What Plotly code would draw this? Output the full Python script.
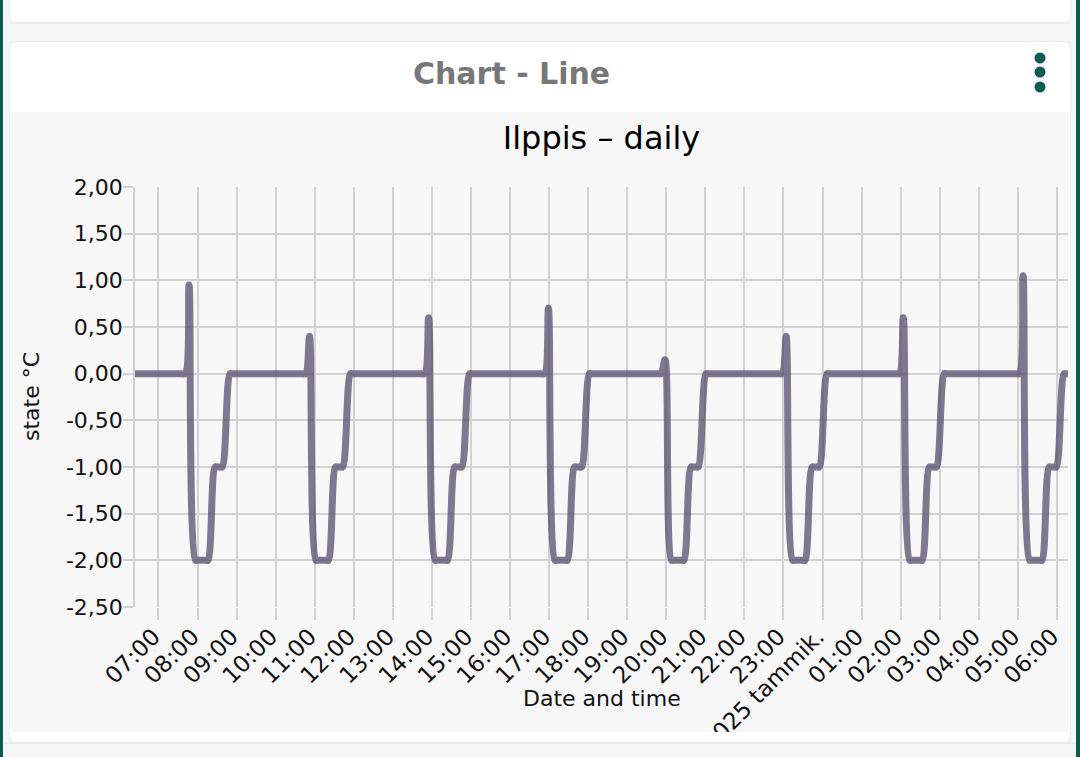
import plotly.graph_objects as go

# --- data (Ilppis, one day, state in °C) ---
times = [
    "2025-01-14 06:24", "2025-01-14 07:00",
    # cycle 1
    "2025-01-14 07:35", "2025-01-14 07:41", "2025-01-14 07:47", "2025-01-14 07:57",
    "2025-01-14 08:00", "2025-01-14 08:13", "2025-01-14 08:16", "2025-01-14 08:27",
    "2025-01-14 08:30", "2025-01-14 08:35", "2025-01-14 08:38", "2025-01-14 08:50",
    "2025-01-14 08:53", "2025-01-14 09:27",
    # cycle 2
    "2025-01-14 10:40", "2025-01-14 10:46", "2025-01-14 10:52", "2025-01-14 11:02",
    "2025-01-14 11:05", "2025-01-14 11:18", "2025-01-14 11:21", "2025-01-14 11:32",
    "2025-01-14 11:35", "2025-01-14 11:40", "2025-01-14 11:43", "2025-01-14 11:55",
    "2025-01-14 11:58", "2025-01-14 12:32",
    # cycle 3
    "2025-01-14 13:43", "2025-01-14 13:49", "2025-01-14 13:55", "2025-01-14 14:05",
    "2025-01-14 14:08", "2025-01-14 14:21", "2025-01-14 14:24", "2025-01-14 14:35",
    "2025-01-14 14:38", "2025-01-14 14:43", "2025-01-14 14:46", "2025-01-14 14:58",
    "2025-01-14 15:01", "2025-01-14 15:35",
    # cycle 4
    "2025-01-14 16:47", "2025-01-14 16:53", "2025-01-14 16:59", "2025-01-14 17:09",
    "2025-01-14 17:12", "2025-01-14 17:25", "2025-01-14 17:28", "2025-01-14 17:39",
    "2025-01-14 17:42", "2025-01-14 17:47", "2025-01-14 17:50", "2025-01-14 18:02",
    "2025-01-14 18:05", "2025-01-14 18:39",
    # cycle 5
    "2025-01-14 19:46", "2025-01-14 19:52", "2025-01-14 19:58", "2025-01-14 20:08",
    "2025-01-14 20:11", "2025-01-14 20:24", "2025-01-14 20:27", "2025-01-14 20:38",
    "2025-01-14 20:41", "2025-01-14 20:46", "2025-01-14 20:49", "2025-01-14 21:01",
    "2025-01-14 21:04", "2025-01-14 21:38",
    # cycle 6
    "2025-01-14 22:52", "2025-01-14 22:58", "2025-01-14 23:04", "2025-01-14 23:14",
    "2025-01-14 23:17", "2025-01-14 23:30", "2025-01-14 23:33", "2025-01-14 23:44",
    "2025-01-14 23:47", "2025-01-14 23:52", "2025-01-14 23:55", "2025-01-15 00:07",
    "2025-01-15 00:10", "2025-01-15 00:44",
    # cycle 7
    "2025-01-15 01:52", "2025-01-15 01:58", "2025-01-15 02:04", "2025-01-15 02:14",
    "2025-01-15 02:17", "2025-01-15 02:30", "2025-01-15 02:33", "2025-01-15 02:44",
    "2025-01-15 02:47", "2025-01-15 02:52", "2025-01-15 02:55", "2025-01-15 03:07",
    "2025-01-15 03:10", "2025-01-15 03:44",
    # cycle 8
    "2025-01-15 04:56", "2025-01-15 05:02", "2025-01-15 05:08", "2025-01-15 05:18",
    "2025-01-15 05:21", "2025-01-15 05:34", "2025-01-15 05:37", "2025-01-15 05:48",
    "2025-01-15 05:51", "2025-01-15 05:56", "2025-01-15 05:59", "2025-01-15 06:11",
    "2025-01-15 06:14", "2025-01-15 06:17",
]
state = [
    0.0, 0.0,
    0.0, 0.0, 0.95, -2.0, -2.0, -2.0, -2.0, -1.0, -1.0, -1.0, -1.0, 0.0, 0.0, 0.0,
    0.0, 0.0, 0.40, -2.0, -2.0, -2.0, -2.0, -1.0, -1.0, -1.0, -1.0, 0.0, 0.0, 0.0,
    0.0, 0.0, 0.60, -2.0, -2.0, -2.0, -2.0, -1.0, -1.0, -1.0, -1.0, 0.0, 0.0, 0.0,
    0.0, 0.0, 0.70, -2.0, -2.0, -2.0, -2.0, -1.0, -1.0, -1.0, -1.0, 0.0, 0.0, 0.0,
    0.0, 0.0, 0.15, -2.0, -2.0, -2.0, -2.0, -1.0, -1.0, -1.0, -1.0, 0.0, 0.0, 0.0,
    0.0, 0.0, 0.40, -2.0, -2.0, -2.0, -2.0, -1.0, -1.0, -1.0, -1.0, 0.0, 0.0, 0.0,
    0.0, 0.0, 0.60, -2.0, -2.0, -2.0, -2.0, -1.0, -1.0, -1.0, -1.0, 0.0, 0.0, 0.0,
    0.0, 0.0, 1.05, -2.0, -2.0, -2.0, -2.0, -1.0, -1.0, -1.0, -1.0, 0.0, 0.0, 0.0,
]

x_tick_vals = [
    "2025-01-14 07:00", "2025-01-14 08:00", "2025-01-14 09:00", "2025-01-14 10:00",
    "2025-01-14 11:00", "2025-01-14 12:00", "2025-01-14 13:00", "2025-01-14 14:00",
    "2025-01-14 15:00", "2025-01-14 16:00", "2025-01-14 17:00", "2025-01-14 18:00",
    "2025-01-14 19:00", "2025-01-14 20:00", "2025-01-14 21:00", "2025-01-14 22:00",
    "2025-01-14 23:00", "2025-01-15 00:00", "2025-01-15 01:00", "2025-01-15 02:00",
    "2025-01-15 03:00", "2025-01-15 04:00", "2025-01-15 05:00", "2025-01-15 06:00",
]
x_tick_text = [
    "07:00", "08:00", "09:00", "10:00", "11:00", "12:00", "13:00", "14:00",
    "15:00", "16:00", "17:00", "18:00", "19:00", "20:00", "21:00", "22:00",
    "23:00", "2025 tammik.", "01:00", "02:00", "03:00", "04:00", "05:00", "06:00",
]
y_tick_vals = [-2.5, -2.0, -1.5, -1.0, -0.5, 0.0, 0.5, 1.0, 1.5, 2.0]
y_tick_text = ["-2,50", "-2,00", "-1,50", "-1,00", "-0,50", "0,00", "0,50", "1,00", "1,50", "2,00"]

# --- page geometry (pixels) ---
W, H = 1080, 757
ML, MR, MT, MB = 135, 12, 187, 150
PW, PH = W - ML - MR, H - MT - MB

TEAL = "#0b5c50"
GRID = "#d2d2d2"
FONT = "DejaVu Sans"


def fx(x):
    return (x - ML) / PW


def fy(y):
    return (H - MB - y) / PH


def rrect(x0, y0, x1, y1, r, color, layer="below"):
    # rounded rectangle as a paper-referenced path
    p = (f"M{fx(x0 + r)},{fy(y0)} L{fx(x1 - r)},{fy(y0)} Q{fx(x1)},{fy(y0)} {fx(x1)},{fy(y0 + r)} "
         f"L{fx(x1)},{fy(y1 - r)} Q{fx(x1)},{fy(y1)} {fx(x1 - r)},{fy(y1)} "
         f"L{fx(x0 + r)},{fy(y1)} Q{fx(x0)},{fy(y1)} {fx(x0)},{fy(y1 - r)} "
         f"L{fx(x0)},{fy(y0 + r)} Q{fx(x0)},{fy(y0)} {fx(x0 + r)},{fy(y0)} Z")
    return dict(type="path", xref="paper", yref="paper", path=p,
                fillcolor=color, line=dict(width=0), layer=layer)


def box(x0, y0, x1, y1, color, layer="below"):
    return dict(type="rect", xref="paper", yref="paper",
                x0=fx(x0), x1=fx(x1), y0=fy(y1), y1=fy(y0),
                fillcolor=color, line=dict(width=0), layer=layer)


def dot(cx, cy, r, color):
    return dict(type="circle", xref="paper", yref="paper",
                x0=fx(cx - r), x1=fx(cx + r), y0=fy(cy + r), y1=fy(cy - r),
                fillcolor=color, line=dict(width=0), layer="below")


shapes = [
    # top card (only its bottom part is visible)
    rrect(9, -20, 1071, 24, 6, "#ebebeb"),
    rrect(10, -20, 1070, 22, 6, "#ffffff"),
    # main card with a faint shadow
    rrect(9, 41, 1071, 744, 6, "#ebebeb"),
    rrect(10, 42, 1070, 742, 6, "#ffffff"),
    box(12, 112, 1068, 732, "#f7f7f7"),
    # menu dots
    dot(1040, 58, 5.5, TEAL),
    dot(1040, 72, 5.5, TEAL),
    dot(1040, 87, 5.5, TEAL),
    # clip the long rotated label at the bottom of the chart area
    box(12, 732, 1068, 742, "#ffffff", "above"),
    box(4, 742, 1075, 744, "#ebebeb", "above"),
    box(4, 744, 1075, 757, "#f6f6f6", "above"),
    # teal frame of the screen
    box(0, 0, 3, 757, TEAL, "above"),
    box(1076, 0, 1080, 757, TEAL, "above"),
]

fig = go.Figure()
fig.add_trace(go.Scatter(
    x=times, y=state, mode="lines",
    line=dict(color="rgba(72,66,98,0.7)", width=7, shape="spline", smoothing=1),
    showlegend=False, hoverinfo="skip",
))

fig.update_layout(
    width=W, height=H,
    margin=dict(l=ML, r=MR, t=MT, b=MB, pad=0, autoexpand=False),
    paper_bgcolor="#f6f6f6",
    plot_bgcolor="#f7f7f7",
    font=dict(family=FONT, size=22, color="#111111"),
    separators=", ",
    showlegend=False,
    title=dict(text="Ilppis – daily", x=0.5, xref="paper", xanchor="center",
               y=1 - 138 / H, yref="container", yanchor="middle",
               font=dict(family=FONT, size=32, color="#000000")),
    xaxis=dict(
        type="date", range=[times[0], times[-1]], automargin=False,
        tickmode="array", tickvals=x_tick_vals, ticktext=x_tick_text, tickangle=-45,
        ticklabelstandoff=-6, ticklabelshift=-5,
        showgrid=True, gridcolor=GRID, gridwidth=1.5,
        ticks="outside", ticklen=12, tickcolor=GRID, tickwidth=1.5,
        showline=False, zeroline=False,
        tickfont=dict(family=FONT, size=23, color="#111111"),
    ),
    yaxis=dict(
        range=[-2.5, 2.0], automargin=False,
        tickmode="array", tickvals=y_tick_vals, ticktext=y_tick_text,
        ticklabelstandoff=-4,
        showgrid=True, gridcolor=GRID, gridwidth=1.5,
        ticks="outside", ticklen=10, tickcolor=GRID, tickwidth=1.5,
        showline=True, linecolor=GRID, linewidth=1.5, zeroline=False,
        tickfont=dict(family=FONT, size=22, color="#111111"),
    ),
    shapes=shapes,
    annotations=[
        dict(text="<b>Chart - Line</b>", xref="paper", yref="paper",
             x=fx(511), y=fy(73), xanchor="center", yanchor="middle", showarrow=False,
             font=dict(family=FONT, size=30, color="#777777")),
        dict(text="state °C", xref="paper", yref="paper", textangle=-90,
             x=fx(31), y=fy(397), xanchor="center", yanchor="middle", showarrow=False,
             font=dict(family=FONT, size=22, color="#111111")),
        dict(text="Date and time", xref="paper", yref="paper",
             x=fx(602), y=fy(698), xanchor="center", yanchor="middle", showarrow=False,
             font=dict(family=FONT, size=22, color="#111111")),
    ],
)

fig.write_html(
    "out.html",
    config={"displayModeBar": False},
    post_script="document.body.style.margin='0';document.body.style.overflow='hidden';",
)
